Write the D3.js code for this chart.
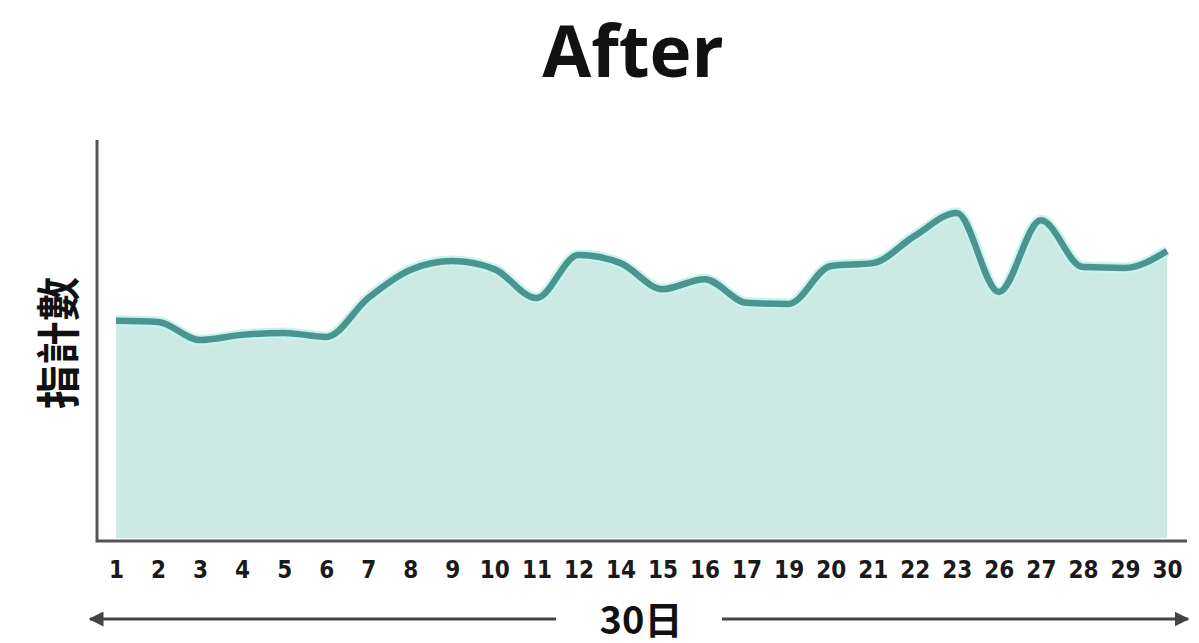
<!DOCTYPE html>
<html>
<head>
<meta charset="utf-8">
<script src="https://cdn.jsdelivr.net/npm/d3@7"></script>
<style>
  html, body { margin: 0; padding: 0; background: #ffffff; }
  svg { display: block; }
</style>
</head>
<body>
<svg id="chart" width="1199" height="643"></svg>
<script>
// ---- data ----
const title = "After";
const yLabel = "指計數";
const xLabel = "30日";
const days = ["1","2","3","4","5","6","7","8","9","10","11","12","14","15","16","17","19","20","21","22","23","26","27","28","29","30"];
const values = [54.9,54.6,50.1,51.4,51.9,50.9,60.6,67.6,69.8,67.8,60.6,71.3,69.3,62.8,65.3,59.4,59.1,68.6,69.3,76.1,81.8,62.1,80.0,68.3,68.1,72.3];
const yDomain = [0, 100];

// ---- layout ----
const W = 1199, H = 643;
const axisX = 97, axisTop = 140, axisBottom = 541, axisRight = 1187;
const firstX = 116, lastX = 1167;

const svg = d3.select("#chart");

const x = d3.scalePoint().domain(days).range([firstX, lastX]);
const y = d3.scaleLinear().domain(yDomain).range([axisBottom, axisTop]);

const data = days.map((d, i) => ({ day: d, v: values[i] }));

// area fill
const area = d3.area()
  .x(d => x(d.day))
  .y0(axisBottom - 3)
  .y1(d => y(d.v))
  .curve(d3.curveMonotoneX);

svg.append("path")
  .datum(data)
  .attr("d", area)
  .attr("fill", "#cde9e4");

// line halo + line
const line = d3.line()
  .x(d => x(d.day))
  .y(d => y(d.v))
  .curve(d3.curveMonotoneX);

svg.append("path")
  .datum(data)
  .attr("d", line)
  .attr("fill", "none")
  .attr("stroke", "#c8f3ee")
  .attr("stroke-width", 11)
  .attr("stroke-linejoin", "round");

svg.append("path")
  .datum(data)
  .attr("d", line)
  .attr("fill", "none")
  .attr("stroke", "#4b958f")
  .attr("stroke-width", 6.5)
  .attr("stroke-linecap", "butt")
  .attr("stroke-linejoin", "round");

// axes lines
svg.append("path")
  .attr("d", `M${axisX},${axisTop}V${axisBottom}H${axisRight}`)
  .attr("fill", "none")
  .attr("stroke", "#555555")
  .attr("stroke-width", 3);

// x tick labels via axis
const xAxis = d3.axisBottom(x).tickSize(0).tickPadding(0);
const gx = svg.append("g")
  .attr("transform", `translate(0, ${axisBottom})`)
  .call(xAxis);
gx.select(".domain").remove();
gx.selectAll("text")
  .attr("y", 29)
  .attr("dy", "0.35em")
  .attr("font-family", "DejaVu Sans Condensed, DejaVu Sans")
  .attr("font-stretch", "condensed")
  .attr("font-weight", "bold")
  .attr("font-size", 24)
  .attr("fill", "#1a1a1a");

// title
svg.append("text")
  .attr("x", 633)
  .attr("y", 77)
  .attr("text-anchor", "middle")
  .attr("font-family", "Open Sans, Noto Sans, sans-serif")
  .attr("font-weight", "bold")
  .attr("font-size", 71)
  .attr("fill", "#111111")
  .text(title);

// y label
svg.append("text")
  .attr("transform", `translate(56, 343) rotate(-90)`)
  .attr("text-anchor", "middle")
  .attr("dominant-baseline", "central")
  .attr("font-family", "Noto Sans CJK TC, Noto Sans CJK SC, sans-serif")
  .attr("font-weight", "bold")
  .attr("font-size", 44)
  .attr("fill", "#111111")
  .text(yLabel);

// bottom arrow with label
const arrowY = 619;
const defs = svg.append("defs");
defs.append("marker")
  .attr("id", "ah")
  .attr("viewBox", "0 0 10 10")
  .attr("refX", 9).attr("refY", 5)
  .attr("markerWidth", 5).attr("markerHeight", 5)
  .attr("orient", "auto-start-reverse")
  .attr("markerUnits", "strokeWidth")
  .append("path")
  .attr("d", "M0,0L10,5L0,10z")
  .attr("fill", "#444444");

svg.append("line")
  .attr("x1", 90).attr("x2", 556)
  .attr("y1", arrowY).attr("y2", arrowY)
  .attr("stroke", "#444444").attr("stroke-width", 3)
  .attr("marker-start", "url(#ah)");
svg.append("line")
  .attr("x1", 722).attr("x2", 1188)
  .attr("y1", arrowY).attr("y2", arrowY)
  .attr("stroke", "#444444").attr("stroke-width", 3)
  .attr("marker-end", "url(#ah)");

svg.append("text")
  .attr("x", 641)
  .attr("y", 617)
  .attr("text-anchor", "middle")
  .attr("dominant-baseline", "central")
  .attr("font-family", "Noto Sans CJK JP, Noto Sans CJK SC, sans-serif")
  .attr("font-weight", "bold")
  .attr("font-size", 38)
  .attr("fill", "#111111")
  .text(xLabel);
</script>
</body>
</html>
